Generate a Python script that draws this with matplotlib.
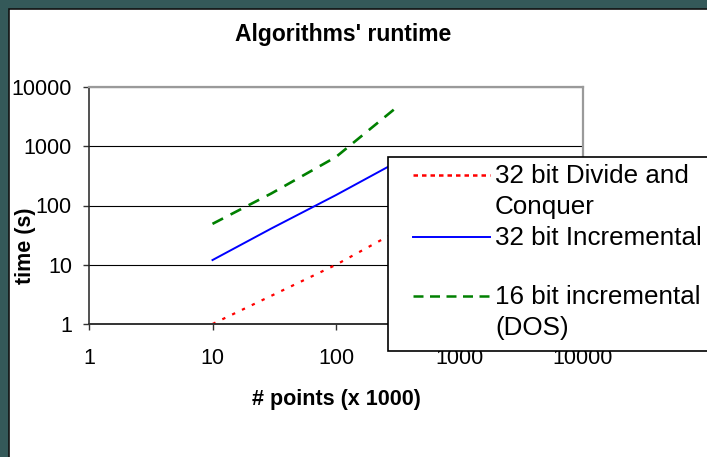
import matplotlib.pyplot as plt
from matplotlib.lines import Line2D
from matplotlib.patches import Rectangle

plt.rcParams['font.family'] = ['Liberation Sans', 'DejaVu Sans']

# data (x in thousands of points, time in seconds)
points = [10, 30, 100, 300]
divide_conquer_32 = [1, 3, 10, 35]
incremental_32 = [12, 41, 150, 520]
incremental_16 = [49, 160, 660, 4300]

series_labels = [
    ['32 bit Divide and', 'Conquer'],
    ['32 bit Incremental'],
    ['16 bit incremental', '(DOS)'],
]

W, H = 707, 457


def fx(x):
    return x / W


def fy(y):
    return 1 - y / H


fig = plt.figure(figsize=(W / 100, H / 100), dpi=100)
fig.patch.set_facecolor('#345959')

# white slide panel
panel = Rectangle((fx(9), fy(470)), 1.1, fy(9) - fy(470), transform=fig.transFigure,
                  facecolor='white', edgecolor='#111111', lw=1.2, zorder=-1)
fig.add_artist(panel)

ax = fig.add_axes([fx(89), fy(324), (583 - 89) / W, (324 - 87) / H])
ax.set_facecolor('white')
ax.set_xscale('log')
ax.set_yscale('log')
ax.set_xlim(1, 10000)
ax.set_ylim(1, 10000)

red_style = dict(color='#ff0000', lw=1.6, dashes=(1.5, 3.4))
blue_style = dict(color='#0000ff', lw=1.4)
green_style = dict(color='#008000', lw=1.9, dashes=(4.5, 3.2))

ax.plot(points, divide_conquer_32, **red_style)
ax.plot(points, incremental_32, **blue_style)
ax.plot(points, incremental_16, **green_style)

ax.set_xticks([1, 10, 100, 1000, 10000])
ax.set_xticklabels(['1', '10', '100', '1000', '10000'])
ax.set_yticks([1, 10, 100, 1000, 10000])
ax.set_yticklabels(['1', '10', '100', '1000', '10000'])
ax.minorticks_off()
ax.tick_params(axis='both', direction='out', length=4.3, width=1.0, color='#333333',
               labelsize=15.5)
ax.tick_params(axis='x', pad=13)
ax.tick_params(axis='y', pad=8)

ax.grid(axis='y', color='black', lw=0.8)
ax.grid(axis='x', visible=False)
ax.set_axisbelow(True)

ax.spines['left'].set_color('#222222')
ax.spines['left'].set_linewidth(1.1)
ax.spines['bottom'].set_color('#333333')
ax.spines['bottom'].set_linewidth(1.4)
for side in ['top', 'right']:
    ax.spines[side].set_color('#9a9a9a')
    ax.spines[side].set_linewidth(1.6)

fig.text(fx(343), fy(35), "Algorithms' runtime", ha='center', va='center',
         fontsize=16.5, fontweight='bold')
fig.text(fx(336), fy(400), '# points (x 1000)', ha='center', va='center',
         fontsize=15.5, fontweight='bold')
fig.text(fx(26), fy(246), 'time (s)', ha='center', va='center', rotation=90,
         fontsize=15.5, fontweight='bold')

# legend box, clipped by the right edge of the picture
leg_box = Rectangle((fx(388), fy(351)), 1.0, fy(157) - fy(351), transform=fig.transFigure,
                    facecolor='white', edgecolor='black', lw=1.2, zorder=5)
fig.add_artist(leg_box)

handle_rows = [175, 237, 296]
handle_styles = [
    dict(color='#ff0000', lw=1.8, dashes=(1.8, 1.6)),
    dict(color='#0000ff', lw=1.4),
    dict(color='#008000', lw=1.8, dashes=(4.0, 2.6)),
]
for y, style in zip(handle_rows, handle_styles):
    fig.add_artist(Line2D([fx(413), fx(490)], [fy(y), fy(y)], transform=fig.transFigure,
                          zorder=6, **style))

baselines = [[183, 214], [245], [304, 335]]
for lines, ys in zip(series_labels, baselines):
    for text, y in zip(lines, ys):
        fig.text(fx(495), fy(y), text, ha='left', va='baseline', fontsize=18.7, zorder=7)

fig.savefig('out.png', dpi=100, facecolor=fig.get_facecolor())
